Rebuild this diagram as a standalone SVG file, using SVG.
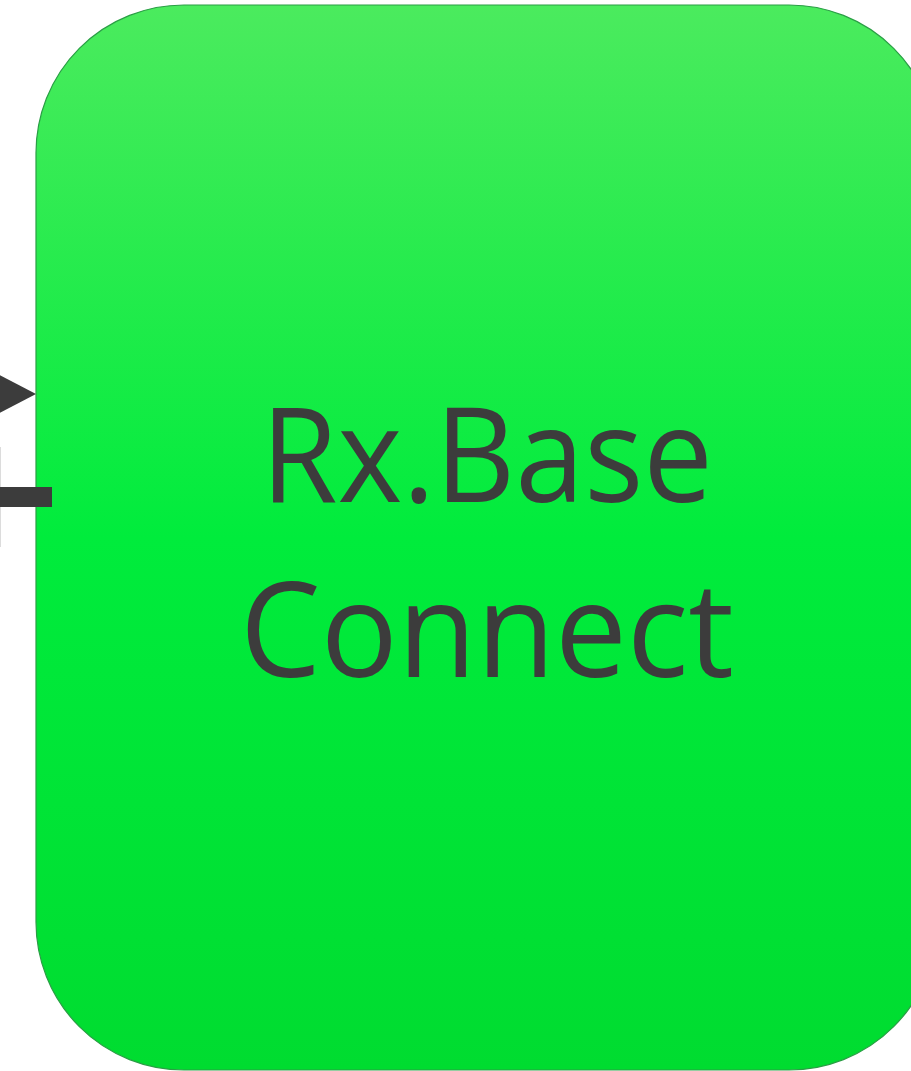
<svg xmlns="http://www.w3.org/2000/svg" width="911" height="1071" viewBox="0 0 911 1071">
  <defs>
    <linearGradient id="greenFill" x1="0" y1="0" x2="0" y2="1">
      <stop offset="0" stop-color="#4BEB5E"/>
      <stop offset="0.5" stop-color="#00EC3C"/>
      <stop offset="1" stop-color="#00DC30"/>
    </linearGradient>
    <style>
      .node { fill: url(#greenFill); stroke: #2A9E45; stroke-width: 1.2; }
      .label { font-family: "Open Sans", "Liberation Sans", sans-serif; font-size: 132px; fill: #3C3C3C; text-anchor: middle; }
      .dark { fill: #3C3C3C; }
    </style>
  </defs>
  <rect width="911" height="1071" fill="#FFFFFF"/>
  <g id="connectors">
    <line x1="0.5" y1="447" x2="0.5" y2="547" stroke="#DCDCDC" stroke-width="1"/>
  </g>
  <g id="node-rxbase-connect">
    <rect class="node" x="36" y="5" width="901" height="1065" rx="148" ry="148"/>
    <text class="label" x="487" y="502" textLength="452" lengthAdjust="spacingAndGlyphs">Rx.Base</text>
    <text class="label" x="487" y="677" textLength="494" lengthAdjust="spacingAndGlyphs">Connect</text>
  </g>
  <g id="connector-ends">
    <polygon class="dark" points="-10,370 36,394 -10,418"/>
    <rect class="dark" x="0" y="487" width="52" height="20"/>
  </g>
</svg>
